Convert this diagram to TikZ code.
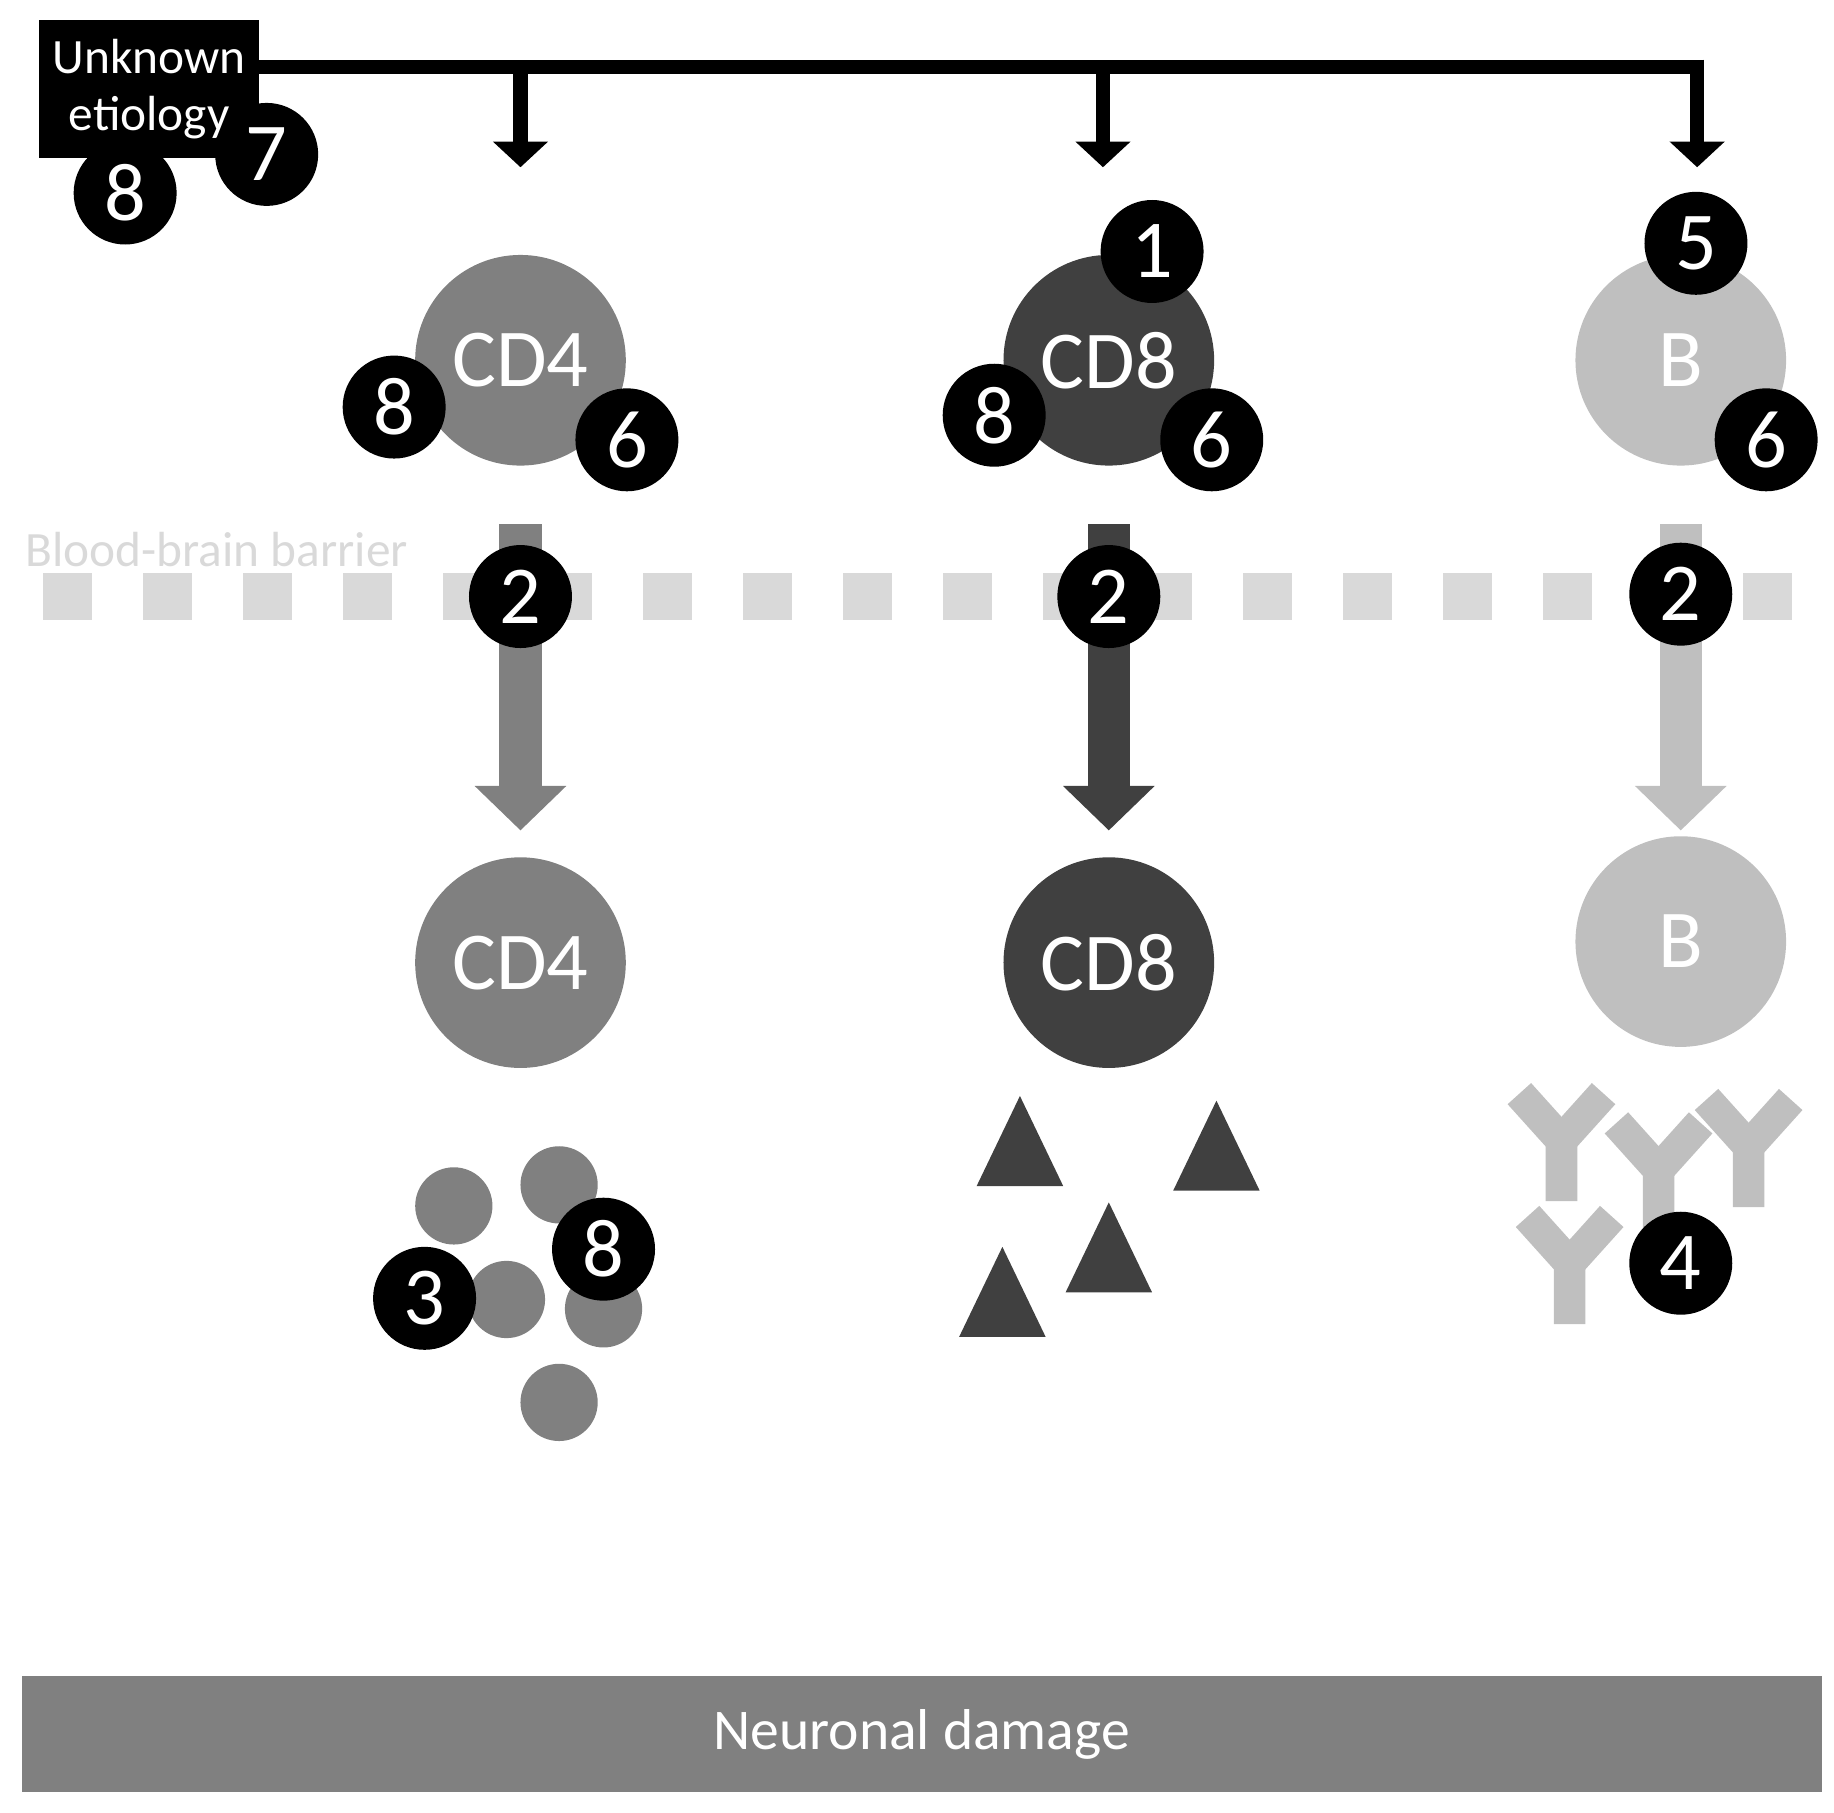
\documentclass[tikz,border=0pt]{standalone}
\usepackage{fontspec}
\setmainfont{Carlito}
\usetikzlibrary{arrows.meta,positioning}
\definecolor{cfour}{gray}{0.5}
\definecolor{ceight}{gray}{0.25}
\definecolor{cbee}{gray}{0.75}
\definecolor{cbbb}{gray}{0.85}
\tikzset{
  cell/.style={circle,minimum size=1.8cm,text=white,font=\fontsize{20}{22}\selectfont},
  badge/.style={circle,fill=black,minimum size=0.88cm,inner sep=0pt,text=white,font=\fontsize{20}{22}\selectfont},
  fat/.style={line width=0.36cm,-{Triangle[length=0.38cm,width=0.76cm]}},
  thin/.style={line width=0.12cm,-{Triangle[length=0.22cm,width=0.46cm]}},
  ab/.style={cbee,line width=0.27cm},
}
\begin{document}
\begin{tikzpicture}[x=0.01cm,y=-0.01cm]
  \useasboundingbox (0,0) rectangle (1568,1550);

  % origin
  \node[fill=black,text=white,minimum width=1.81cm,minimum height=1.18cm,align=center,
        font=\fontsize{12}{14}\selectfont] (etio) at (127.5,76) {Unknown\\etiology};
  \coordinate (bar0) at (218,57);
  \coordinate (bar1) at (1451,57);
  \draw[line width=0.12cm] (bar0) -- (bar1);
  \draw[thin] (1451,51) -- (1451,143);
  \draw[thin] (445,57) -- (445,143);
  \draw[thin] (943,57) -- (943,143);
  \node[badge] at (107,165) {8};
  \node[badge] at (228,132) {7};

  % blood-brain barrier
  \node[anchor=west,text=cbbb,font=\fontsize{12}{14}\selectfont,inner sep=0pt] (bbb) at (21,470) {Blood-brain barrier};
  \foreach \i in {0,...,17}
    \fill[cbbb] (37+85.5*\i,490) rectangle ++(42,40);

  % fat arrows
  \draw[fat,cfour] (445,448) -- (445,710);
  \draw[fat,ceight] (948,448) -- (948,710);
  \draw[fat,cbee] (1437,448) -- (1437,710);

  % cells
  \node[cell,fill=cfour] (cd4a) at (445,308) {CD4};
  \node[cell,fill=ceight] (cd8a) at (948,308) {CD8};
  \node[cell,fill=cbee] (ba) at (1437,308) {B};
  \node[cell,fill=cfour] (cd4b) at (445,823) {CD4};
  \node[cell,fill=ceight] (cd8b) at (948,823) {CD8};
  \node[cell,fill=cbee] (bb) at (1437,805) {B};

  \node[badge] at (337,348) {8};
  \node[badge] at (536,376) {6};
  \node[badge] at (985,215) {1};
  \node[badge] at (850,355) {8};
  \node[badge] at (1036,376) {6};
  \node[badge] at (1450,208) {5};
  \node[badge] at (1510,376) {6};
  \node[badge] at (445,510) {2};
  \node[badge] at (948,510) {2};
  \node[badge] at (1437,508) {2};

  % cytokines
  \foreach \x/\y in {388/1031,478/1013,433/1111,516/1119,478/1199}
    \fill[cfour] (\x,\y) circle (0.33cm);
  \node[badge] at (516,1068) {8};
  \node[badge] at (363,1110) {3};

  % granules
  \foreach \x/\y in {872/1014,1040/1018,948/1105,857/1143}
    \fill[ceight] (\x-37,\y) -- (\x+37,\y) -- (\x,\y-77) -- cycle;

  % antibodies
  \foreach \x/\y in {1335/975,1495/980,1418/1000,1342/1080}{
    \draw[ab] (\x,\y+52) -- (\x,\y) -- (\x-36,\y-40);
    \draw[ab] (\x,\y) -- (\x+36,\y-40);
  }
  \node[badge] at (1437,1080) {4};

  % outcome
  \node[fill=cfour,text=white,minimum width=15.38cm,minimum height=0.99cm,
        font=\fontsize{14}{16}\selectfont] (dmg) at (788,1482.5) {Neuronal damage};
\end{tikzpicture}
\end{document}
